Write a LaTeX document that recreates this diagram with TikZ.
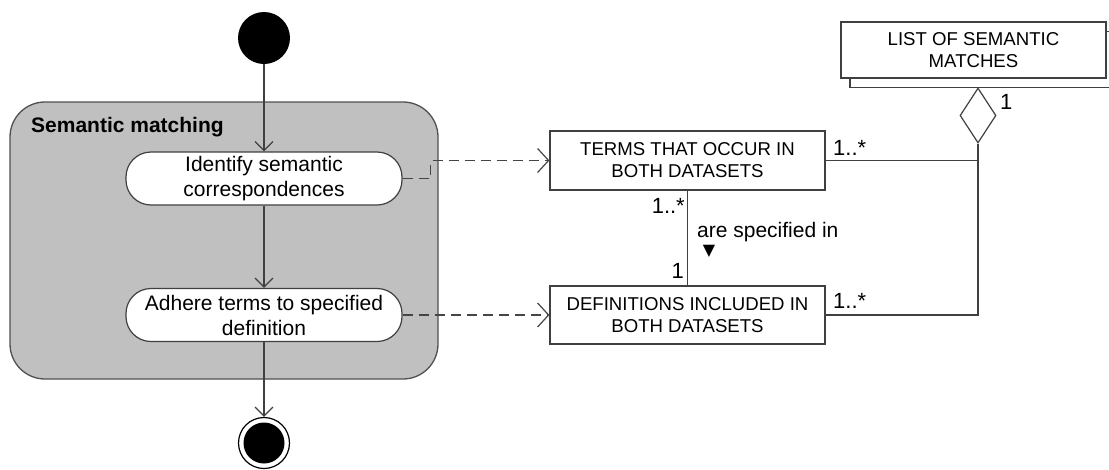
\documentclass[tikz,border=0pt]{standalone}
\usepackage{fontspec}
\setmainfont{Liberation Sans}
\newfontfamily\symfont{DejaVu Sans}
\usetikzlibrary{arrows.meta,shapes.geometric}

\definecolor{inkgray}{HTML}{404040}
\definecolor{groupfill}{HTML}{C0C0C0}
\definecolor{groupedge}{HTML}{505050}
\definecolor{depgray}{HTML}{454545}

\tikzset{
  conn/.style={draw=inkgray, line width=1.2pt},
  flow/.style={conn, -{Straight Barb[length=9pt,width=18pt,line width=1.2pt]}},
  dep/.style={draw=depgray, line width=1.5pt, dash pattern=on 10pt off 6pt,
              -{Straight Barb[length=11pt,width=24pt,line width=1.2pt]}},
  action/.style={draw=inkgray, line width=1.2pt, fill=white, rounded corners=25pt,
                 minimum width=276pt, minimum height=53pt, inner sep=0pt, align=center,
                 font=\fontsize{21}{25}\selectfont},
  classbox/.style={draw=inkgray, line width=1.2pt, fill=white, rectangle,
                   minimum width=275pt, minimum height=58pt, inner sep=0pt, align=center,
                   font=\fontsize{18.6}{22}\selectfont},
  mult/.style={inner sep=0pt, font=\fontsize{22}{24}\selectfont, text=black},
  lbl/.style={inner sep=0pt, font=\fontsize{21}{24}\selectfont, text=black},
}

\begin{document}
\begin{tikzpicture}[x=1pt,y=-1pt]
\useasboundingbox (0,0) rectangle (1109,469);

% activity group
\node[draw=groupedge, line width=1.3pt, fill=groupfill, rounded corners=35pt,
      minimum width=428pt, minimum height=277pt, inner sep=0pt] (grp) at (224,240.5) {};
\node[anchor=base west, inner sep=0pt, font=\fontsize{21}{24}\selectfont\bfseries] (grplabel)
      at (31,132) {Semantic matching};

% initial and final nodes
\node[circle, fill=black, minimum size=52pt, inner sep=0pt] (start) at (264,38) {};
\node[circle, draw=black, line width=1.2pt, fill=white, minimum size=51pt, inner sep=0pt] (end) at (264,443) {};
\node[circle, fill=black, minimum size=41pt, inner sep=0pt] (endcore) at (end.center) {};

% actions
\node[action] (a1) at (264,178.5) {Identify semantic\\correspondences};
\node[action] (a2) at (264,315) {Adhere terms to specified\\definition};

% classes
\node[classbox, minimum height=59pt] (terms) at (687.5,160.5) {TERMS THAT OCCUR IN\\BOTH DATASETS};
\node[classbox] (defs) at (687.5,315) {DEFINITIONS INCLUDED IN\\BOTH DATASETS};
\node[classbox, minimum width=265pt, minimum height=56pt] (listback) at (982.5,59.5) {};
\node[classbox, minimum width=265pt, minimum height=56pt] (list) at (973.5,50) {LIST OF SEMANTIC\\MATCHES};

% aggregation diamond
\node[diamond, draw=inkgray, line width=1.2pt, fill=white, minimum width=36pt,
      minimum height=55pt, inner sep=0pt] (agg) at (978,115.5) {};

% control flow
\draw[flow] (start) -- (a1);
\draw[flow] (a1) -- (a2);
\draw[flow] (a2) -- (end);

% object flows
\draw[dep] (a1.east) -- ++(28,0) |- (terms.west);
\draw[dep] (a2.east) -- (defs.west);

% associations
\draw[conn] (terms.south) -- (defs.north);
\draw[conn] (terms.east) -- (terms.east -| agg.south);
\draw[conn] (defs.east) -| (agg.south);

% multiplicities and role labels
\node[mult, anchor=base east] (mts) at (685,213) {1..*};
\node[mult, anchor=base east] (mdn) at (684,278) {1};
\node[lbl, anchor=base west] (spec) at (697,237) {are specified in};
\node[inner sep=0pt, font=\symfont\fontsize{16}{16}\selectfont] (dirmark) at (709,251.5) {▼};
\node[mult, anchor=base west] (mtr) at (833,155) {1..*};
\node[mult, anchor=base west] (mdr) at (833,308) {1..*};
\node[mult, anchor=base west] (mag) at (1000,109) {1};
\end{tikzpicture}
\end{document}
